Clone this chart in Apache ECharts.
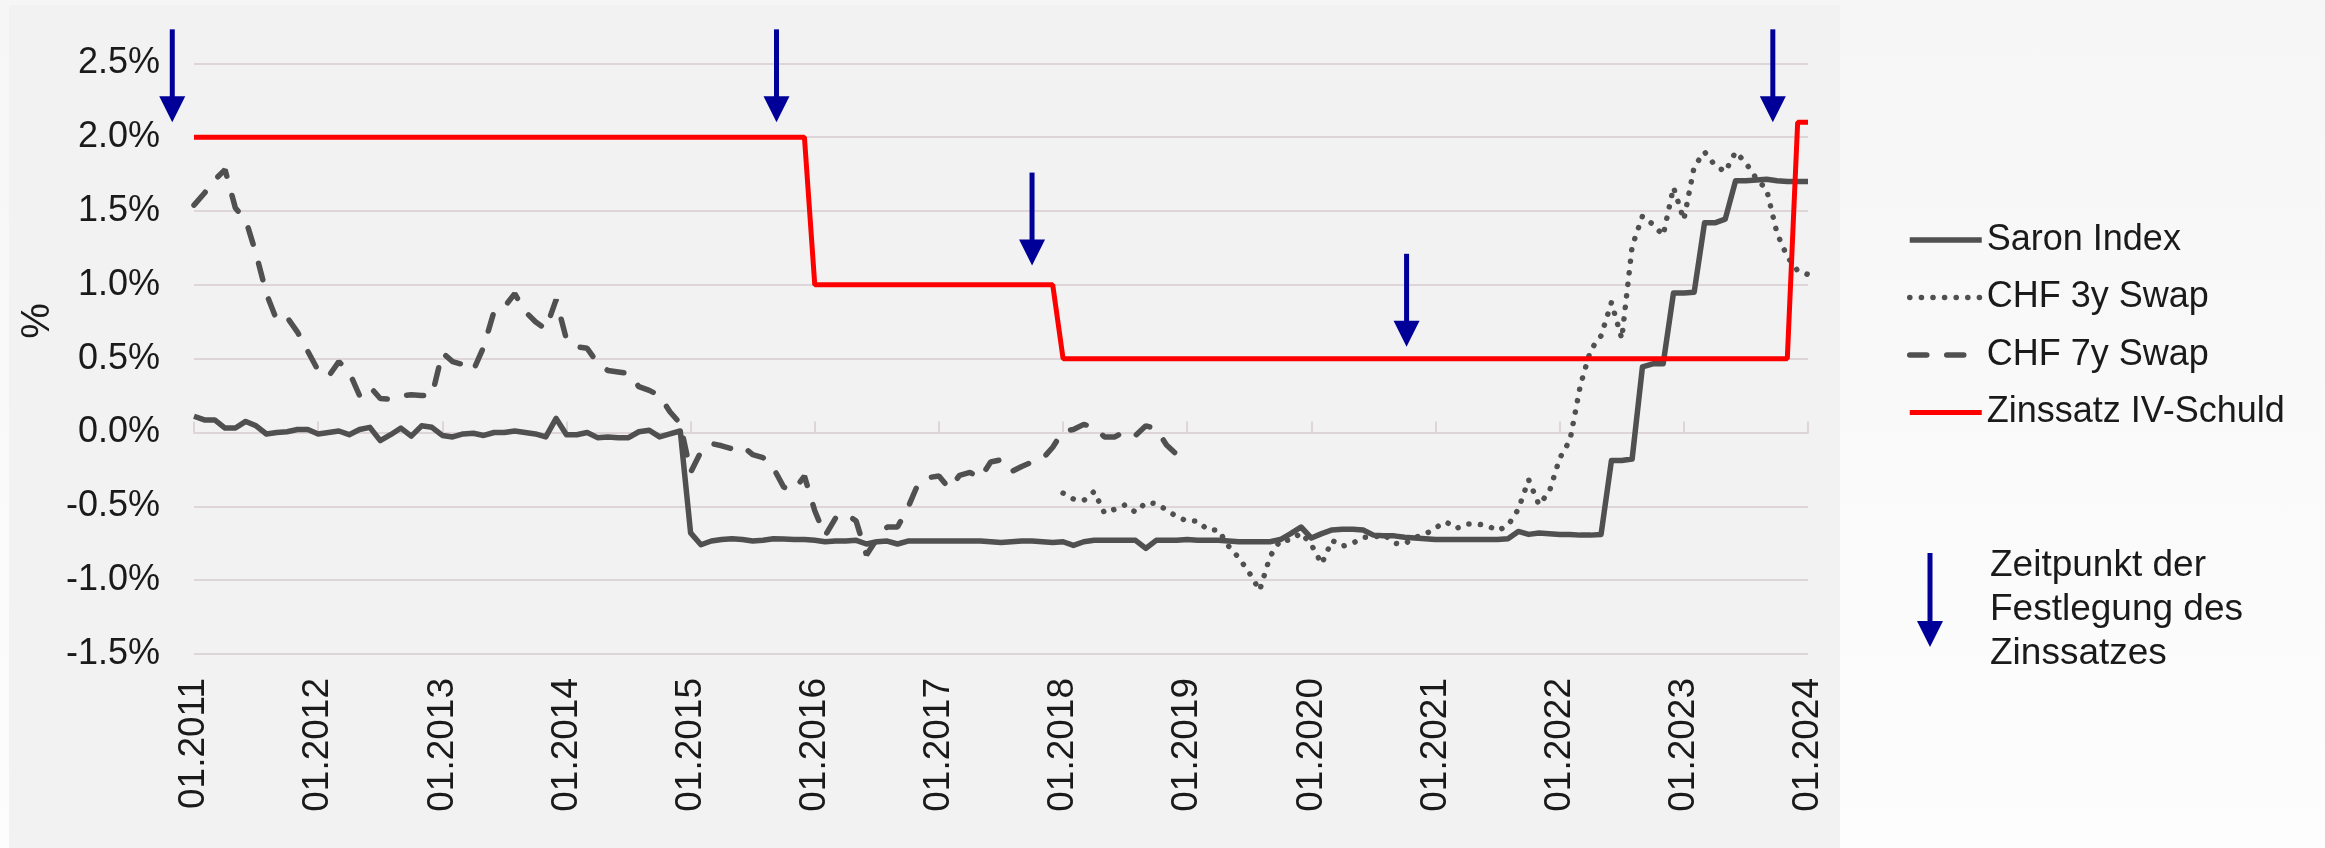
<html>

<head>
    <meta charset='UTF-8'>
    <script src='https://cdn.jsdelivr.net/npm/echarts@6/dist/echarts.min.js'></script>
    <style>
        html,
        body {
            margin: 0;
            padding: 0;
            width: 2325px;
            height: 848px;
            overflow: hidden;
            background: linear-gradient(#f6f6f6, #fdfdfd);
        }

        #panel {
            position: absolute;
            left: 9px;
            top: 5px;
            width: 1831px;
            height: 843px;
            background: #f2f2f2;
        }

        #chart {
            position: absolute;
            left: 0;
            top: 0;
            width: 2325px;
            height: 848px;
        }
    </style>
</head>

<body>
    <div id="panel"></div>
    <div id="chart"></div>
    <script>
        // x = Monatsindex, 0 = 01.2011 ... 156 = 01.2024
        const yearLabels = ['01.2011', '01.2012', '01.2013', '01.2014', '01.2015', '01.2016', '01.2017',
            '01.2018', '01.2019', '01.2020', '01.2021', '01.2022', '01.2023', '01.2024']

        const saron = [
            0.11, 0.085, 0.085, 0.03, 0.03, 0.075, 0.045, -0.01, 0.0, 0.005, 0.02, 0.02,
            -0.01, 0.0, 0.01, -0.015, 0.02, 0.035, -0.055, -0.015, 0.03, -0.025, 0.045, 0.035,
            -0.02, -0.03, -0.01, -0.005, -0.02, 0.0, 0.0, 0.01, 0.0, -0.01, -0.03, 0.095,
            -0.015, -0.015, 0.0, -0.035, -0.03, -0.035, -0.035, 0.005, 0.015, -0.03, -0.01, 0.01,
            -0.68, -0.76, -0.735, -0.725, -0.72, -0.725, -0.735, -0.73, -0.72, -0.722, -0.725, -0.725,
            -0.73, -0.74, -0.735, -0.735, -0.73, -0.755, -0.74, -0.735, -0.755, -0.735, -0.735, -0.735,
            -0.735, -0.735, -0.735, -0.735, -0.735, -0.74, -0.745, -0.74, -0.735, -0.735, -0.74, -0.745,
            -0.74, -0.765, -0.74, -0.73, -0.73, -0.73, -0.73, -0.73, -0.785, -0.73, -0.73, -0.73,
            -0.725, -0.73, -0.73, -0.73, -0.735, -0.74, -0.74, -0.74, -0.74, -0.725, -0.685, -0.64,
            -0.715, -0.685, -0.66, -0.655, -0.655, -0.66, -0.695, -0.70, -0.70, -0.71, -0.715, -0.72,
            -0.725, -0.725, -0.725, -0.725, -0.725, -0.725, -0.725, -0.72, -0.67, -0.69, -0.68, -0.685,
            -0.69, -0.69, -0.695, -0.695, -0.69, -0.19, -0.19, -0.18, 0.445, 0.465, 0.465, 0.945,
            0.945, 0.95, 1.42, 1.42, 1.445, 1.705, 1.705, 1.71, 1.715, 1.705, 1.70, 1.70,
            1.70
        ]

        const swap7yStart = 0
        const swap7y = [
            1.54, 1.62, 1.71, 1.78, 1.52, 1.44, 1.21, 0.94, 0.76, 0.78, 0.68, 0.55,
            0.42, 0.38, 0.48, 0.41, 0.25, 0.31, 0.23, 0.225, 0.25, 0.255, 0.25, 0.25,
            0.54, 0.48, 0.46, 0.42, 0.58, 0.82, 0.85, 0.94, 0.82, 0.75, 0.70, 0.90,
            0.63, 0.58, 0.57, 0.47, 0.42, 0.41, 0.40, 0.31, 0.285, 0.25, 0.14, 0.06,
            -0.27, -0.13, -0.075, -0.09, -0.11, -0.09, -0.15, -0.17, -0.24, -0.37, -0.39, -0.295,
            -0.53, -0.70, -0.58, -0.55, -0.60, -0.83, -0.72, -0.64, -0.64, -0.51, -0.345, -0.305,
            -0.295, -0.38, -0.29, -0.27, -0.31, -0.20, -0.185, -0.265, -0.23, -0.20, -0.18, -0.10,
            0.01, 0.02, 0.055, 0.035, -0.03, -0.03, 0.01, -0.02, 0.045, 0.025, -0.085, -0.15
        ]

        const swap3yStart = 84
        const swap3y = [
            -0.41, -0.45, -0.46, -0.40, -0.545, -0.52, -0.49, -0.54, -0.475, -0.48, -0.525, -0.57,
            -0.60, -0.60, -0.66, -0.66, -0.77, -0.85, -0.95, -1.07, -0.84, -0.73, -0.73, -0.68,
            -0.76, -0.89, -0.73, -0.77, -0.75, -0.71, -0.71, -0.69, -0.75, -0.755, -0.71, -0.69,
            -0.645, -0.605, -0.65, -0.62, -0.62, -0.63, -0.665, -0.63, -0.52, -0.32, -0.49, -0.40,
            -0.175, -0.05, 0.32, 0.56, 0.655, 0.88, 0.635, 1.26, 1.465, 1.41, 1.335, 1.66,
            1.44, 1.80, 1.90, 1.81, 1.765, 1.90, 1.825, 1.72, 1.645, 1.35, 1.19, 1.095,
            1.07
        ]

        // Zinssatz IV-Schuld als Stufen (Monatsindex, Wert)
        const zinsMonths = [0, 59, 60, 83, 84, 154, 155, 156]
        const zinsValues = [2.0, 2.0, 1.0, 1.0, 0.5, 0.5, 2.1, 2.1]

        // Pfeile: Zeitpunkt der Festlegung
        const arrowMonths = [-2.1, 56.3, 81.0, 117.2, 152.6]
        const arrowTop = [2.73, 2.73, 1.76, 1.21, 2.73]
        const arrowTip = [2.10, 2.10, 1.13, 0.58, 2.10]

        const gray = '#505050'
        const navy = '#000099'
        const font = 'Liberation Sans, Arial, sans-serif'

        const toPairs = (arr, start) => arr.map((v, i) => [start + i, v])

        const chart = echarts.init(document.getElementById('chart'))
        chart.setOption({
            animation: false,
            textStyle: { fontFamily: font },
            grid: { left: 194, right: 517, top: 63.3, bottom: 194 },
            legend: {
                orient: 'vertical',
                left: 1907,
                top: 220,
                padding: 0,
                itemWidth: 72,
                itemHeight: 20,
                itemGap: 17.5,
                itemStyle: { opacity: 0 },
                lineStyle: { width: 'inherit' },
                textStyle: { fontSize: 36, lineHeight: 40, color: '#1a1a1a', fontFamily: font },
                data: ['Saron Index', 'CHF 3y Swap', 'CHF 7y Swap', 'Zinssatz IV-Schuld']
            },
            xAxis: [{
                type: 'value',
                min: 0,
                max: 156,
                interval: 12,
                axisLine: { show: false, onZero: false },
                axisTick: { show: false },
                splitLine: { show: false },
                axisLabel: {
                    rotate: 90,
                    margin: 24,
                    fontSize: 37,
                    color: '#1a1a1a',
                    formatter: v => yearLabels[v / 12]
                }
            }, {
                type: 'value',
                min: 0,
                max: 156,
                interval: 12,
                axisLine: { show: true, onZero: true, lineStyle: { color: '#ddd5d8', width: 2 } },
                axisTick: { show: true, length: 11, lineStyle: { color: '#ddd5d8', width: 2 } },
                axisLabel: { show: false },
                splitLine: { show: false }
            }],
            yAxis: {
                type: 'value',
                min: -1.5,
                max: 2.5,
                interval: 0.5,
                axisLine: { show: false },
                axisTick: { show: false },
                splitLine: { lineStyle: { color: '#ddd5d8', width: 2 } },
                axisLabel: {
                    margin: 34,
                    fontSize: 36,
                    color: '#1a1a1a',
                    formatter: v => v.toFixed(1) + '%'
                }
            },
            graphic: [{
                type: 'text',
                x: 38,
                y: 321,
                rotation: Math.PI / 2,
                style: { text: '%', font: '40px ' + font, fill: '#1a1a1a', align: 'center', verticalAlign: 'middle' }
            }, {
                type: 'line',
                shape: { x1: 1930, y1: 553, x2: 1930, y2: 625 },
                style: { stroke: navy, lineWidth: 5 }
            }, {
                type: 'polygon',
                shape: { points: [[1917, 621], [1943, 621], [1930, 647]] },
                style: { fill: navy }
            }, {
                type: 'text',
                x: 1990,
                y: 544,
                style: {
                    text: 'Zeitpunkt der\nFestlegung des\nZinssatzes',
                    font: '37px ' + font,
                    lineHeight: 44,
                    fill: '#1a1a1a'
                }
            }],
            series: [{
                name: 'Saron Index',
                type: 'line',
                symbol: 'none',
                data: toPairs(saron, 0),
                lineStyle: { color: gray, width: 5.5, join: 'round' },
                itemStyle: { color: gray }
            }, {
                name: 'CHF 3y Swap',
                type: 'line',
                symbol: 'none',
                data: toPairs(swap3y, swap3yStart),
                lineStyle: { color: gray, width: 5.5, type: [0.1, 11.5], cap: 'round' },
                itemStyle: { color: gray }
            }, {
                name: 'CHF 7y Swap',
                type: 'line',
                symbol: 'none',
                data: toPairs(swap7y, swap7yStart),
                lineStyle: { color: gray, width: 5.5, type: [17, 20], cap: 'round' },
                itemStyle: { color: gray }
            }, {
                name: 'Zinssatz IV-Schuld',
                type: 'line',
                symbol: 'none',
                data: zinsMonths.map((m, i) => [m, zinsValues[i]]),
                lineStyle: { color: '#ff0000', width: 5 },
                itemStyle: { color: '#ff0000' }
            }, {
                name: 'Festlegung',
                type: 'custom',
                clip: false,
                z: 5,
                encode: { x: 0, y: [1, 2] },
                data: arrowMonths.map((m, i) => [m, arrowTop[i], arrowTip[i]]),
                renderItem: (params, api) => {
                    const top = api.coord([api.value(0), api.value(1)])
                    const tip = api.coord([api.value(0), api.value(2)])
                    const headH = 26, headW = 26
                    return {
                        type: 'group',
                        children: [{
                            type: 'line',
                            shape: { x1: top[0], y1: top[1], x2: tip[0], y2: tip[1] - headH + 2 },
                            style: { stroke: navy, lineWidth: 5 }
                        }, {
                            type: 'polygon',
                            shape: { points: [[tip[0] - headW / 2, tip[1] - headH], [tip[0] + headW / 2, tip[1] - headH], [tip[0], tip[1]]] },
                            style: { fill: navy }
                        }]
                    }
                }
            }]
        })
    </script>
</body>

</html>
